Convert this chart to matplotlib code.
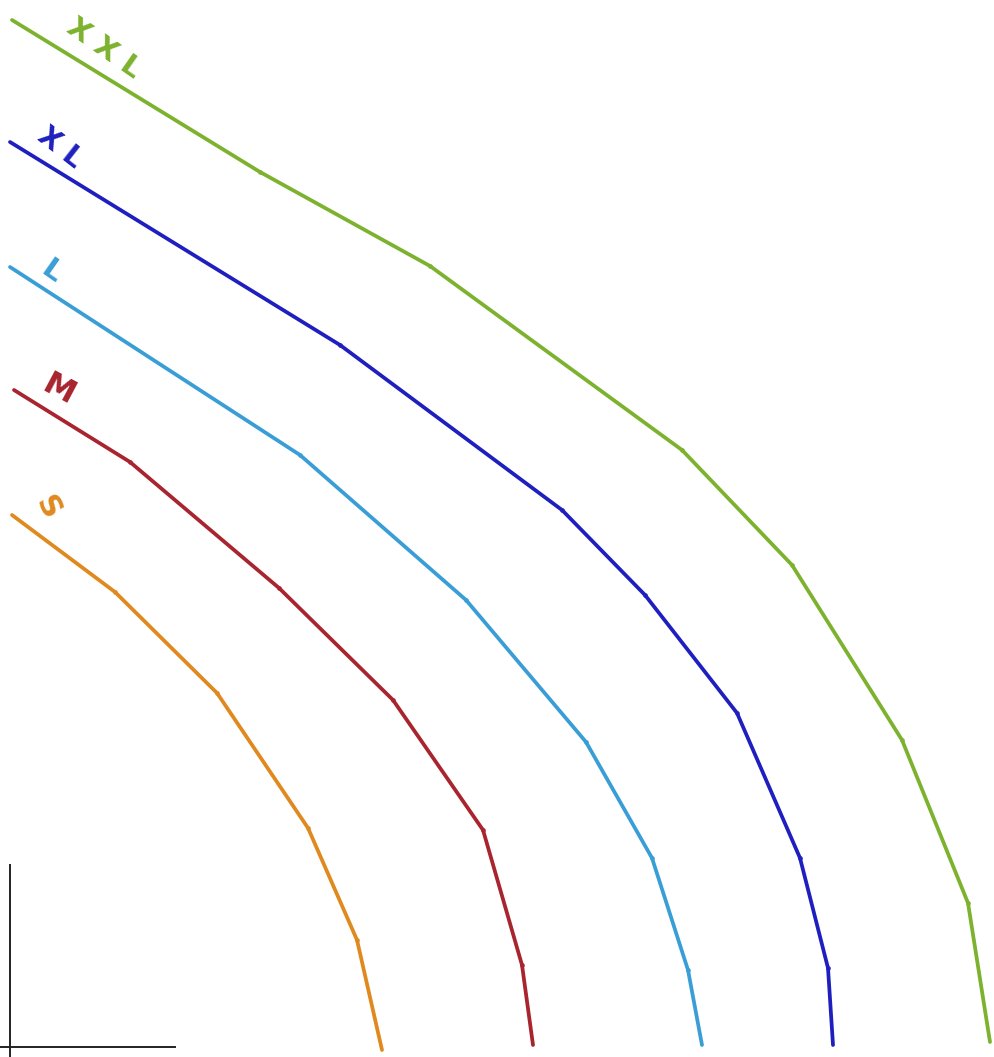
import matplotlib
matplotlib.use("Agg")
import matplotlib.pyplot as plt
import numpy as np

H = 1057
sizes = ["S", "M", "L", "XL", "XXL"]
s_x = [12, 115, 217, 308, 357, 382]
s_y = [515, 592, 693, 828, 940, 1050]
m_x = [14, 130, 279, 393, 483, 522, 533]
m_y = [390, 462, 588, 700, 830, 965, 1045]
l_x = [10, 300, 466, 586, 652, 688, 702]
l_y = [267, 455, 600, 742, 858, 970, 1045]
xl_x = [10, 340, 562, 645, 737, 800, 828, 833]
xl_y = [142, 345, 510, 595, 713, 858, 968, 1045]
xxl_x = [12, 260, 430, 682, 792, 902, 968, 990]
xxl_y = [20, 172, 266, 450, 565, 740, 903, 1042]

series = {"S": (s_x, s_y), "M": (m_x, m_y), "L": (l_x, l_y), "XL": (xl_x, xl_y), "XXL": (xxl_x, xxl_y)}
colors = {"S": "#e0891f", "M": "#a8242e", "L": "#3a9ed6", "XL": "#1f1fbf", "XXL": "#7cb22e"}
label_txt = {"S": "S", "M": "M", "L": "L", "XL": "X L", "XXL": "X X L"}
label_pos = {"S": (47, 508), "M": (58, 390), "L": (52, 272), "XL": (60, 148), "XXL": (104, 48)}
label_rot = {"S": -62, "M": -28, "L": -35, "XL": -38, "XXL": -35}
label_fs = {"S": 22, "M": 23, "L": 21, "XL": 20, "XXL": 21}

fig = plt.figure(figsize=(9.94, 10.57), dpi=100)
ax = fig.add_axes([0, 0, 1, 1])
ax.set_xlim(0, 994)
ax.set_ylim(0, H)

for k in sizes:
    x, y = series[k]
    yy = H - np.array(y)
    ax.plot(x, yy, color=colors[k], lw=2.7, solid_capstyle="round", solid_joinstyle="round")
    ax.plot(x[1:-1], yy[1:-1], "o", color=colors[k], ms=3.4, mec="none", alpha=0.9)
    lx, ly = label_pos[k]
    ax.text(lx, H - ly, label_txt[k], color=colors[k], fontsize=label_fs[k], fontweight="bold",
            rotation=label_rot[k], ha="center", va="center", rotation_mode="anchor")

for s in ["top", "right"]:
    ax.spines[s].set_visible(False)
ax.spines["left"].set_position(("data", 10))
ax.spines["left"].set_bounds(0, 192)
ax.spines["bottom"].set_position(("data", 10))
ax.spines["bottom"].set_bounds(0, 175)
for s in ["left", "bottom"]:
    ax.spines[s].set_linewidth(1.4)
    ax.spines[s].set_color("#222222")
ax.set_xticks([])
ax.set_yticks([])

fig.savefig("out.png", dpi=100)
